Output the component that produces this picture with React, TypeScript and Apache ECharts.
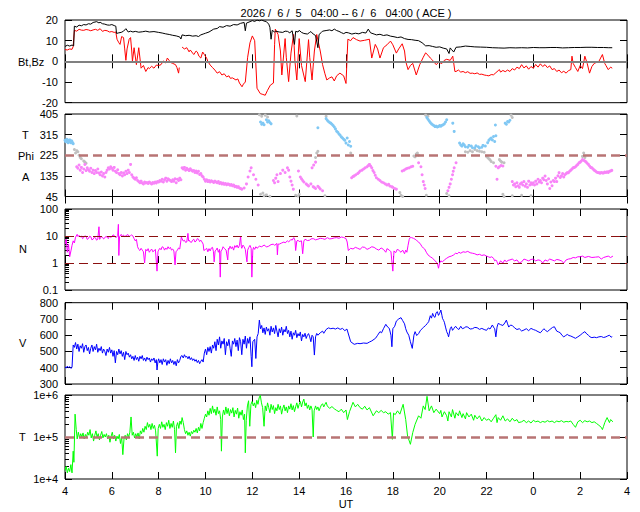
import React, { useEffect, useRef } from 'react';
import * as echarts from 'echarts';

// ---------- data (hours since 00 UT on 6/5; values > 24 are on 6/6) ----------
const TITLE = '2026 /  6 /  5   04:00 -- 6 /  6   04:00 ( ACE )';

const BT: [number, number][] = [
  [4.0,7.2],[4.1,7.8],[4.2,7.4],[4.3,7.9],[4.37,7.5],[4.4,17],[4.5,16.6],[4.6,17.5],[4.7,17.2],[4.8,17.8],[4.9,17.6],[5.0,18.2],
  [5.1,18],[5.2,18.8],[5.35,19.2],[5.45,18.6],[5.5,18.9],[5.6,18.2],[5.7,18],[5.8,17.6],[5.9,17.5],[6.0,17.8],[6.1,17.3],[6.17,17],
  [6.2,13.5],[6.3,13.8],[6.4,14],[6.5,14.6],[6.6,15.8],[6.7,14.2],[6.8,14.6],[6.9,14.2],[7.0,14.5],[7.15,14.1],[7.3,14.3],[7.45,14.6],
  [7.6,14.2],[7.8,14.4],[8.0,14],[8.15,13.7],[8.3,13.3],[8.45,13.0],[8.6,12.6],[8.75,12.3],[8.9,11.8],[8.95,10.8],[9.0,12.8],[9.15,12.4],
  [9.3,12.6],[9.45,12.2],[9.6,12.4],[9.7,12.0],[9.8,12.8],[9.9,13.2],[10.0,13.6],[10.15,14.2],[10.35,15.6],[10.5,15.9],[10.6,16.8],[10.75,16.5],
  [10.9,17.3],[11.05,17.0],[11.2,17.8],[11.35,17.6],[11.5,18.4],[11.65,18.8],[11.7,14.8],[11.75,18.5],[11.9,19.2],[12.0,19.7],[12.1,19.3],[12.2,20],
  [12.3,19.6],[12.4,20],[12.5,19.5],[12.6,19.2],[12.7,18.0],[12.75,16.5],[12.8,10.7],[12.85,15],[12.95,14.2],[13.0,14.6],[13.15,14.2],[13.3,14],
  [13.4,14.6],[13.5,14.5],[13.6,13.8],[13.7,14.8],[13.8,8.2],[13.85,14.5],[13.95,14.2],[14.0,15],[14.1,14.0],[14.2,13.5],[14.35,13.2],[14.45,14.0],
  [14.5,14.4],[14.6,13.2],[14.7,12.5],[14.8,6.6],[14.85,13],[14.95,14.0],[15.0,14.6],[15.15,14.9],[15.3,15.2],[15.4,14.8],[15.5,15.6],[15.6,14.9],
  [15.7,14.5],[15.8,13.9],[15.9,13.4],[16.0,14.0],[16.1,13.8],[16.25,13.2],[16.4,13.6],[16.55,13.3],[16.7,14],[16.85,13.7],[16.95,15.6],[17.05,13.8],
  [17.2,13.2],[17.3,12.8],[17.45,13.1],[17.6,12.5],[17.75,12.8],[17.9,12.2],[18.05,11.9],[18.2,11.5],[18.35,11.8],[18.5,11],[18.65,10.6],[18.8,10.5],
  [18.95,10.2],[19.1,10],[19.25,9.0],[19.4,7.5],[19.55,7.6],[19.7,7.2],[19.85,6.8],[20.0,7],[20.15,6.4],[20.3,6],[20.4,3.8],[20.45,6.5],
  [20.5,5.8],[20.6,4.5],[20.7,6.8],[20.9,7.0],[21.1,7.4],[21.3,7.2],[21.5,7],[21.75,6.9],[22.0,6.8],[22.25,6.6],[22.5,6.5],[22.75,6.4],
  [23.0,6.6],[23.25,6.5],[23.5,6.6],[23.75,6.5],[24.0,6.7],[24.25,6.6],[24.5,6.6],[24.75,6.7],[25.0,6.7],[25.25,6.5],[25.5,6.6],[25.75,6.7],
  [26.0,6.7],[26.25,6.8],[26.5,6.8],[26.75,6.7],[27.0,6.7],[27.2,6.6],[27.37,6.6]
];

const BZ: [number, number | null][] = [
  [4.0,5.7],[4.1,5.5],[4.2,6.0],[4.3,5.8],[4.35,7.2],[4.4,15],[4.5,14.6],[4.6,15.5],[4.7,15.1],[4.8,15],[4.9,15.4],[5.0,15.2],
  [5.1,14.8],[5.2,15.2],[5.3,15.5],[5.4,15.0],[5.5,15.8],[5.6,14.5],[5.7,15.0],[5.8,14.8],[5.9,14.2],[6.0,14.4],[6.1,14.0],[6.17,14.2],
  [6.22,10.7],[6.3,9.0],[6.35,8.2],[6.42,12.0],[6.5,11.5],[6.55,6.0],[6.6,0.5],[6.65,6],[6.74,10.7],[6.8,11.5],[6.85,5.0],[6.88,0],
  [6.95,6.6],[7.05,-1.6],[7.15,6.6],[7.25,-3.3],[7.35,-2.0],[7.45,-4.9],[7.55,-3.0],[7.6,-3.5],[7.7,-2.4],[7.8,-3.3],[7.9,-1.8],[8.0,-2],
  [8.1,-1.6],[8.2,0.2],[8.3,-0.8],[8.37,1.6],[8.45,0.4],[8.5,-0.5],[8.6,-1.0],[8.72,-1.6],[8.78,-3],[8.85,-5.7],[8.88,-3],[8.93,null],
  [9.0,6.9],[9.1,6.0],[9.2,6.6],[9.3,4.6],[9.35,5.5],[9.45,4.0],[9.5,3.3],[9.6,5.0],[9.65,4.5],[9.72,2.5],[9.8,1.6],[9.88,4.5],
  [9.95,3.3],[10.05,1.5],[10.1,0],[10.2,-1.8],[10.3,-3],[10.4,-4.2],[10.5,-5.7],[10.6,-5.0],[10.7,-6.6],[10.8,-6.0],[10.9,-7.5],[11.0,-7.0],
  [11.06,-8.2],[11.15,-8.0],[11.3,-9],[11.38,-8.5],[11.45,-10.5],[11.56,-12.3],[11.62,-11.0],[11.7,-10],[11.8,2],[11.9,9],[12.0,12.3],[12.1,10],
  [12.2,-13],[12.34,-15.6],[12.45,-16],[12.55,-16.4],[12.65,-14],[12.77,-11.5],[12.9,-10.5],[12.95,8],[12.98,15.6],[13.1,13],[13.2,5],[13.26,-6.6],
  [13.4,11],[13.45,2],[13.55,-9.8],[13.65,4],[13.76,13],[13.82,0],[13.9,-9],[14.0,11],[14.1,-2],[14.26,-9.8],[14.4,10.5],[14.45,2],
  [14.55,-9],[14.65,5],[14.75,13],[14.9,5],[15.0,-1.6],[15.1,-6.0],[15.18,-9],[15.3,-8.0],[15.4,-7.5],[15.5,-9.5],[15.6,-7.0],[15.74,-5.7],
  [15.9,-7],[16.0,-10.7],[16.08,10.7],[16.2,10.0],[16.3,11.5],[16.45,10.5],[16.6,9.8],[16.8,10.2],[17.0,10.7],[17.1,1.6],[17.25,8.2],[17.35,6.0],
  [17.45,1.6],[17.6,6.6],[17.75,8.0],[17.9,9.8],[18.0,8.0],[18.15,4],[18.25,6.0],[18.4,8.5],[18.5,5.0],[18.55,0],[18.65,-4],[18.75,-2.0],
  [18.85,-1],[19.0,-6.6],[19.15,-1.6],[19.3,2.0],[19.4,4.1],[19.5,3.0],[19.6,1.6],[19.7,0.5],[19.85,-1.6],[19.95,-0.5],[20.1,-1],[20.2,0.5],
  [20.3,1],[20.45,0.5],[20.56,2.5],[20.65,-4.9],[20.7,-4.9],[20.8,-4.2],[20.9,-5.2],[21.0,-4.9],[21.1,-5.5],[21.2,-5.0],[21.3,-5.8],[21.4,-5.7],
  [21.5,-6.0],[21.6,-5.6],[21.7,-6.3],[21.8,-6.2],[21.9,-6.6],[22.0,-6.8],[22.1,-7],[22.2,-6.4],[22.3,-6.5],[22.4,-5.5],[22.5,-4.5],[22.55,-4],
  [22.6,-5.2],[22.7,-4.4],[22.8,-5.0],[22.9,-4.2],[23.0,-4.9],[23.1,-3.5],[23.2,-4.2],[23.3,-2.8],[23.4,-3.5],[23.5,-1.6],[23.6,-3.2],[23.7,-2.2],
  [23.8,-3.8],[23.9,-2.5],[24.0,-3.3],[24.1,-1.5],[24.2,-2.8],[24.3,-1.2],[24.4,-2.5],[24.5,-1.6],[24.6,-3.0],[24.7,-2.2],[24.8,-4.0],[24.9,-3.5],
  [25.0,-4.9],[25.1,-4.2],[25.2,-5.5],[25.3,-4.8],[25.4,-5.7],[25.5,-4.5],[25.6,-4],[25.65,2.5],[25.7,-1],[25.8,-3],[25.9,-4.9],[26.0,-2.0],
  [26.1,-3.5],[26.2,2.5],[26.3,-1],[26.4,-5.7],[26.5,-2.5],[26.6,-1],[26.7,-0.5],[26.8,0],[26.95,3.3],[27.05,-1],[27.1,-2],[27.2,-4],
  [27.3,-2.8],[27.37,-3.3]
];

// Phi, away sector (pink). Dense stretches sampled every 0.05 h.
const PHI_AWAY_1 = [
  175,168,182,160,172,150,165,185,158,170, 162,155,168,150,160,145,158,150,165,148,
  140,152,135,145,130,150,160,170,165,175, 168,160,172,155,150,162,145,140,150,135,
  148,140,155,145,160,150,185,140,130,125, 120,127,115,110,105,112,104,100,108,104,
  106,102,108,104,100,106,103,108,104,110, 108,115,112,120,108,118,125,112,122,118,
  115,110,118,112,122,105,120,115,125,118, 170,165,172,160,168,163,158,166,160,155,
  158,150,156,148,155,141,145,135,130,120, 112,118,110,115,108,114,110,106,112,108,
  105,110,102,106,100,104,98,102,96,100, 98,94,97,92,95,88,90,85,88,82, 80,77
]; // from 4.5 h
const PHI_AWAY_2 = [
  110,95,100,88,105,92,85,100, 105,95,110,90,100,85,112,95,105,98,
  105,95,112,100,120,108,115,105,125,118, 134,115,100,122,80,108,92,115,110,125,
  110,135,149,128,135,145,130,140,145,149, 149,155,160,165,170,172,175,180,185,192,
  195,200,206,203,200,196,190,185,178,172, 170,165,160,156,152,150,149,147,150,148,
  148,152,150,153,150,155,156,159
]; // from 23.1 h
const PHI_AWAY_X: [number, number][] = [
  [11.65,82],[11.75,100],[11.82,130],[11.9,156],[11.95,170],[12.05,140],[12.15,120],[12.25,95],[12.9,115],[12.95,105],
  [13.0,125],[13.05,140],[13.1,110],[13.2,145],[13.3,160],[13.4,150],[13.5,170],[13.55,160],[13.6,130],[13.65,112],
  [13.7,95],[13.75,77],[13.97,156],[14.05,130],[14.1,122],[14.15,115],[14.2,108],[14.3,100],[14.35,95],[14.4,91],
  [14.5,100],[14.6,88],[14.65,84],[14.7,80],[14.8,90],[14.85,84],[14.9,78],[15.0,70],[14.55,170],[14.62,182],
  [14.7,195],[16.24,127],[16.3,132],[16.35,135],[16.42,140],[16.5,145],[16.55,150],[16.6,156],[16.68,160],[16.75,165],
  [16.82,170],[16.9,175],[16.95,180],[17.0,185],[17.05,178],[17.1,170],[17.15,158],[17.2,150],[17.25,138],[17.3,127],
  [17.38,120],[17.45,115],[17.52,108],[17.6,105],[17.68,100],[17.75,95],[17.82,98],[17.87,91],[17.95,88],[18.0,85],
  [18.08,80],[18.15,77],[18.4,156],[18.48,160],[18.55,165],[18.62,168],[18.7,170],[18.78,175],[18.85,177],[19.1,192],
  [19.2,175],[19.25,140],[19.3,110],[19.34,95],[19.38,80],[20.35,70],[20.4,85],[20.45,100],[20.5,120],[20.55,140],
  [20.58,155],[20.62,170],[20.7,192],[22.4,177],[22.45,120],[22.5,170],[22.55,175],[22.62,180],[22.7,178]
];

const PHI_TOWARD: [number, number][] = [
  [4.0,290],[4.03,284],[4.05,285],[4.08,295],[4.1,288],[4.13,280],[4.15,282],[4.18,290],[4.2,292],[4.23,285],
  [4.25,280],[4.28,288],[4.3,285],[4.33,278],[4.35,275],[12.35,370],[12.4,360],[12.45,365],[12.5,358],[12.6,380],
  [12.65,370],[12.7,375],[12.75,368],[12.8,362],[14.8,345],[15.15,385],[15.2,378],[15.25,372],[15.3,368],[15.35,365],
  [15.4,360],[15.45,355],[15.5,348],[15.55,340],[15.6,330],[15.65,325],[15.7,318],[15.75,312],[15.8,305],[15.85,300],
  [15.9,295],[15.95,290],[16.0,278],[16.05,300],[16.1,270],[16.15,285],[16.2,264],[19.45,390],[19.5,382],[19.55,375],
  [19.6,368],[19.65,362],[19.7,358],[19.75,355],[19.8,350],[19.85,352],[19.9,348],[19.95,350],[20.0,355],[20.05,352],
  [20.1,356],[20.15,358],[20.2,362],[20.25,370],[20.3,380],[20.56,365],[20.62,329],[20.85,278],[20.9,270],[20.95,265],
  [21.0,275],[21.05,270],[21.1,262],[21.2,260],[21.25,268],[21.35,265],[21.4,258],[21.5,258],[21.55,266],[21.65,262],
  [21.7,257],[21.8,260],[21.85,268],[21.95,265],[22.05,280],[22.1,290],[22.15,296],[22.2,300],[22.25,292],[22.3,307],
  [22.35,285],[22.4,310],[22.38,357],[22.8,365],[22.85,360],[22.9,372],[22.95,370],[23.0,378]
];

const PHI_MIXED: [number, number][] = [
  [4.4,250],[4.45,235],[4.5,245],[4.55,240],[4.6,225],[4.65,215],[4.7,210],[4.8,200],[4.85,195],[4.9,190],
  [12.3,402],[12.4,395],[12.55,400],[12.65,392],[12.35,55],[12.45,60],[12.5,48],[12.6,52],[12.75,46],[13.85,50],
  [13.95,47],[14.0,55],[13.9,396],[14.7,215],[14.75,235],[14.8,242],[15.1,48],[15.15,395],[16.2,235],[16.25,225],
  [18.3,62],[18.35,50],[18.42,45],[18.9,222],[18.95,218],[19.0,230],[19.05,235],[19.1,225],[19.43,50],[19.4,400],
  [19.5,395],[20.3,58],[20.4,48],[21.1,240],[21.2,238],[21.3,245],[21.4,240],[21.5,250],[21.6,245],[21.7,242],
  [21.8,240],[21.9,238],[22.0,220],[22.05,215],[22.1,210],[22.15,205],[22.2,198],[22.3,192],[22.55,206],[22.6,200],
  [22.65,195],[22.75,192],[22.7,55],[22.75,45],[23.05,400],[23.1,390],[23.1,48],[23.5,50],[23.9,48],[26.1,220],
  [26.15,235],[26.2,215]
];

const DENSITY: [number, number][] = [
  [4.0,5],[4.05,7.6],[4.1,2.5],[4.15,5],[4.2,1.7],[4.26,3],[4.3,4.5],[4.35,6.6],[4.4,5.5],[4.45,9],[4.52,11.5],[4.56,9.5],
  [4.6,10.5],[4.65,9.2],[4.7,10],[4.75,8.0],[4.8,8.7],[4.85,10.2],[4.9,9.5],[4.95,7.5],[5.0,8],[5.05,9.8],[5.1,9.5],[5.15,7.2],
  [5.2,7.6],[5.25,9.0],[5.3,8.5],[5.35,7.0],[5.4,7.6],[5.45,22],[5.48,7.5],[5.5,8],[5.55,9.5],[5.6,9],[5.65,7.8],[5.7,8.5],
  [5.75,9.8],[5.8,9],[5.85,8.0],[5.9,10],[5.95,8.8],[6.0,9.5],[6.05,11.0],[6.1,10.5],[6.15,9.0],[6.2,9],[6.25,10.5],[6.28,27],
  [6.3,1.9],[6.33,9.5],[6.35,10],[6.4,11.5],[6.45,9.8],[6.5,10.8],[6.55,9.5],[6.6,10],[6.65,11.2],[6.7,11],[6.75,9.6],[6.8,10.3],
  [6.85,11.0],[6.9,10],[6.95,8.0],[7.0,6.6],[7.05,7.5],[7.1,4],[7.15,3.2],[7.2,2.9],[7.25,3.5],[7.3,3],[7.35,2.6],[7.4,1],
  [7.45,3.2],[7.5,2.8],[7.55,3.4],[7.6,2.5],[7.65,2.9],[7.7,3.3],[7.75,2.6],[7.8,2.8],[7.86,3.2],[7.93,0.5],[7.97,2.6],[8.0,3],
  [8.05,3.5],[8.1,3.1],[8.15,4.0],[8.2,3.8],[8.25,3.0],[8.3,3.6],[8.35,3.2],[8.4,4.0],[8.45,3.4],[8.5,3.8],[8.55,3.0],[8.6,3.3],
  [8.65,2.8],[8.7,0.85],[8.74,2.6],[8.8,3],[8.85,3.6],[8.9,3.3],[8.97,9.2],[9.0,8.0],[9.05,6.5],[9.1,7],[9.15,5.8],[9.2,6],
  [9.25,12.5],[9.28,6.5],[9.3,7],[9.35,6.0],[9.4,5.8],[9.45,7.0],[9.5,7.6],[9.55,6.0],[9.6,6.5],[9.65,8.0],[9.7,7.6],[9.75,6.2],
  [9.8,7.0],[9.85,6],[9.9,5.0],[9.93,2.9],[10.0,3.2],[10.05,3.5],[10.1,2.6],[10.15,3.4],[10.2,2.8],[10.25,3.6],[10.3,3.8],[10.34,2.6],
  [10.37,1.1],[10.41,2.8],[10.45,3],[10.5,3.6],[10.55,2.5],[10.6,3.2],[10.63,0.3],[10.66,2.8],[10.7,3],[10.75,4.0],[10.8,3.5],[10.88,3.0],
  [10.95,1.3],[10.98,3.5],[11.0,3.2],[11.05,4.2],[11.1,3.4],[11.15,4],[11.2,3.0],[11.25,4.4],[11.3,3.8],[11.35,4.6],[11.4,3.6],[11.45,4.5],
  [11.5,10],[11.53,4.0],[11.55,3.5],[11.6,4.6],[11.65,4],[11.7,3.2],[11.77,1.1],[11.8,3.0],[11.85,3.8],[11.9,4.5],[11.95,3.5],[11.98,0.3],
  [12.02,3.0],[12.05,3.8],[12.1,3.2],[12.15,4.0],[12.2,3.5],[12.3,4.2],[12.4,4],[12.5,4.6],[12.55,4.4],[12.6,3.9],[12.7,4.2],[12.8,4.8],
  [12.9,5],[12.95,4.5],[13.05,5.3],[13.07,2],[13.1,5.0],[13.15,5],[13.25,5.5],[13.35,6],[13.4,5.6],[13.5,6.6],[13.55,6.0],[13.65,7.5],
  [13.7,7.0],[13.77,8.7],[13.82,7.0],[13.85,2.9],[13.9,6.5],[13.95,7],[14.0,6.2],[14.1,6.6],[14.15,2.2],[14.2,6.5],[14.25,7.6],[14.35,6.8],
  [14.45,7],[14.5,7.8],[14.6,8],[14.7,7.2],[14.8,7.6],[14.9,8.2],[15.0,8],[15.1,7.5],[15.2,8.7],[15.3,7.8],[15.4,8],[15.5,8.5],
  [15.6,8.7],[15.7,8.2],[15.8,9.2],[15.9,8.8],[16.0,8],[16.05,6.0],[16.1,2.9],[16.2,3.5],[16.3,3.3],[16.4,3.8],[16.5,3.5],[16.6,3.2],
  [16.7,3.9],[16.8,3.8],[16.9,3.2],[17.0,3.5],[17.1,4.0],[17.2,3.8],[17.3,3.3],[17.4,3],[17.5,3.6],[17.6,3.2],[17.7,2.5],[17.75,3.4],
  [17.85,3],[17.92,2.6],[18.0,0.5],[18.05,2.8],[18.12,2.4],[18.2,3.3],[18.28,2.8],[18.35,2.5],[18.42,3.0],[18.5,2.2],[18.55,3.0],[18.6,2.5],
  [18.65,4.5],[18.7,7.5],[18.75,9.0],[18.8,8.7],[18.88,8.2],[18.95,7.6],[19.02,6.8],[19.1,6],[19.18,5.0],[19.25,4],[19.3,3.6],[19.36,3.3],
  [19.43,2.5],[19.5,2],[19.6,1.7],[19.7,1.5],[19.8,1.2],[19.9,1],[19.95,0.64],[20.0,1.0],[20.05,1.2],[20.12,1.1],[20.2,1.3],[20.3,1.5],
  [20.4,1.7],[20.5,1.8],[20.6,2],[20.68,2.3],[20.75,2.2],[20.82,2.5],[20.9,2.3],[21.0,2.6],[21.1,2.5],[21.2,2.7],[21.3,2.4],[21.4,2.3],
  [21.5,2.2],[21.6,2.0],[21.7,2.1],[21.8,1.9],[21.9,2.0],[22.0,1.8],[22.08,1.7],[22.15,1.6],[22.22,1.7],[22.3,1.5],[22.35,1.2],[22.4,1.3],
  [22.45,1.1],[22.5,0.85],[22.55,1.0],[22.6,1.2],[22.7,1.0],[22.78,1.3],[22.85,1.1],[22.92,1.25],[23.0,1.3],[23.1,1.4],[23.2,1.2],[23.3,1.3],
  [23.4,1.0],[23.5,1.1],[23.6,1.4],[23.7,1.3],[23.8,1.2],[23.9,1.35],[24.0,1.4],[24.1,1.2],[24.2,1.3],[24.3,1.25],[24.4,1.0],[24.5,1.3],
  [24.6,1.18],[24.7,1.4],[24.8,1.3],[24.9,1.2],[25.0,1.35],[25.1,1.3],[25.2,1.2],[25.3,1.0],[25.4,1.3],[25.5,1.4],[25.6,1.45],[25.7,1.6],
  [25.8,1.55],[25.9,1.7],[26.0,1.7],[26.1,1.8],[26.2,1.6],[26.35,1.75],[26.5,1.6],[26.65,1.65],[26.8,1.7],[26.9,1.4],[27.0,1.6],[27.1,1.7],
  [27.2,1.8],[27.3,1.6],[27.4,1.8]
];

const SPEED: [number, number][] = [
  [4.0,405],[4.05,398],[4.1,410],[4.15,400],[4.2,407],[4.25,396],[4.3,402],[4.35,540],[4.4,525],[4.45,555],[4.5,515],[4.55,545],
  [4.6,500],[4.65,535],[4.7,520],[4.75,548],[4.8,495],[4.85,530],[4.9,540],[4.95,505],[5.0,525],[5.05,485],[5.1,520],[5.15,540],
  [5.2,500],[5.25,530],[5.3,510],[5.35,545],[5.4,495],[5.45,520],[5.5,505],[5.55,530],[5.6,490],[5.65,515],[5.7,500],[5.75,475],
  [5.8,515],[5.85,495],[5.9,525],[5.95,490],[6.0,510],[6.05,470],[6.1,505],[6.15,430],[6.2,500],[6.25,480],[6.3,515],[6.35,485],
  [6.4,505],[6.45,470],[6.5,495],[6.55,450],[6.6,500],[6.65,480],[6.7,490],[6.75,465],[6.8,480],[6.85,455],[6.9,470],[6.95,445],
  [7.0,475],[7.05,450],[7.1,465],[7.15,440],[7.2,470],[7.25,455],[7.3,475],[7.35,445],[7.4,460],[7.45,440],[7.5,465],[7.55,450],
  [7.6,460],[7.65,435],[7.7,455],[7.75,445],[7.8,460],[7.85,430],[7.9,450],[7.93,386],[7.97,440],[8.0,455],[8.05,430],[8.1,450],
  [8.15,420],[8.2,455],[8.25,435],[8.3,450],[8.35,415],[8.4,445],[8.45,425],[8.5,455],[8.55,430],[8.6,445],[8.65,420],[8.7,440],
  [8.75,412],[8.8,450],[8.85,430],[8.9,445],[8.95,470],[9.0,475],[9.05,460],[9.1,480],[9.15,465],[9.2,470],[9.25,455],[9.3,470],
  [9.35,450],[9.4,462],[9.45,445],[9.5,455],[9.55,440],[9.6,450],[9.65,432],[9.7,445],[9.75,425],[9.8,440],[9.85,450],[9.9,435],
  [9.95,490],[10.0,515],[10.05,480],[10.1,525],[10.15,500],[10.2,530],[10.25,490],[10.3,540],[10.35,520],[10.4,560],[10.45,505],[10.5,575],
  [10.55,540],[10.6,590],[10.65,520],[10.7,565],[10.75,545],[10.8,580],[10.85,480],[10.9,560],[10.95,535],[11.0,575],[11.05,520],[11.1,470],
  [11.15,565],[11.2,545],[11.25,580],[11.3,530],[11.35,570],[11.4,505],[11.45,585],[11.5,560],[11.55,480],[11.6,575],[11.65,545],[11.7,595],
  [11.75,520],[11.8,580],[11.85,550],[11.9,590],[11.95,470],[11.98,406],[12.02,560],[12.1,575],[12.15,457],[12.2,590],[12.25,610],[12.3,693],
  [12.35,640],[12.4,660],[12.45,615],[12.5,645],[12.55,605],[12.6,650],[12.65,625],[12.7,640],[12.75,600],[12.8,655],[12.85,620],[12.9,645],
  [12.95,610],[13.0,660],[13.05,625],[13.1,590],[13.15,640],[13.2,615],[13.25,650],[13.3,600],[13.35,635],[13.4,620],[13.45,655],[13.5,610],
  [13.55,630],[13.6,590],[13.65,625],[13.7,575],[13.75,615],[13.8,600],[13.85,630],[13.9,585],[13.95,610],[14.0,595],[14.05,620],[14.1,565],
  [14.15,605],[14.2,590],[14.25,612],[14.3,580],[14.35,600],[14.4,610],[14.45,590],[14.5,560],[14.55,600],[14.6,590],[14.65,478],[14.7,590],
  [14.75,611],[14.8,600],[14.9,615],[15.0,625],[15.05,612],[15.15,635],[15.25,645],[15.35,640],[15.45,643],[15.55,638],[15.65,645],[15.75,636],
  [15.85,642],[15.95,628],[16.04,638],[16.2,560],[16.35,544],[16.5,550],[16.6,548],[16.75,552],[16.9,550],[17.0,558],[17.1,565],[17.2,575],
  [17.26,581],[17.35,600],[17.45,622],[17.52,615],[17.6,640],[17.7,667],[17.78,650],[17.85,642],[17.92,600],[17.96,529],[18.0,640],[18.08,655],
  [18.15,687],[18.25,700],[18.35,708],[18.42,690],[18.5,670],[18.55,640],[18.6,620],[18.68,600],[18.75,560],[18.83,519],[18.9,600],[18.95,622],
  [19.02,598],[19.1,610],[19.18,630],[19.25,640],[19.32,650],[19.4,660],[19.47,672],[19.53,683],[19.6,720],[19.65,705],[19.7,734],[19.75,715],
  [19.8,710],[19.85,738],[19.9,745],[19.95,722],[20.0,735],[20.05,755],[20.1,720],[20.12,704],[20.17,690],[20.2,680],[20.25,650],[20.3,622],
  [20.35,605],[20.38,590],[20.45,640],[20.5,652],[20.55,630],[20.6,640],[20.68,655],[20.75,642],[20.82,635],[20.9,655],[20.97,640],[21.05,645],
  [21.12,652],[21.2,650],[21.3,638],[21.4,640],[21.5,648],[21.6,646],[21.7,636],[21.8,642],[21.9,635],[22.0,630],[22.08,645],[22.15,638],
  [22.25,663],[22.32,645],[22.35,640],[22.4,590],[22.45,650],[22.5,673],[22.6,665],[22.7,660],[22.78,675],[22.85,693],[22.9,670],[22.95,650],
  [23.02,662],[23.1,660],[23.2,645],[23.3,635],[23.4,640],[23.5,626],[23.6,632],[23.7,640],[23.8,628],[23.9,642],[24.0,635],[24.1,630],
  [24.2,622],[24.3,615],[24.38,628],[24.45,640],[24.52,630],[24.6,622],[24.68,632],[24.75,640],[24.82,648],[24.9,652],[24.95,638],[25.0,625],
  [25.08,620],[25.15,615],[25.22,600],[25.3,590],[25.38,598],[25.45,605],[25.52,598],[25.6,595],[25.7,588],[25.8,581],[25.9,590],[26.0,600],
  [26.1,612],[26.2,622],[26.28,608],[26.35,600],[26.42,590],[26.5,585],[26.6,588],[26.7,585],[26.8,590],[26.9,592],[27.0,586],[27.1,590],
  [27.18,596],[27.25,600],[27.32,588],[27.37,591]
];

const TEMP: [number, number][] = [
  [4.0,1.6e4],[4.05,2e4],[4.1,1.4e4],[4.15,1.8e4],[4.2,1.5e4],[4.25,2.2e4],[4.3,1.4e4],[4.35,4.6e4],[4.38,2.5e4],[4.43,3.5e5],
  [4.48,1.5e5],[4.52,0.9e5],[4.57,1.3e5],[4.62,0.95e5],[4.67,1.2e5],[4.72,1.0e5],[4.77,1.25e5],[4.82,0.9e5],[4.87,1.15e5],[4.92,1.0e5],
  [4.97,1.3e5],[5.02,1.1e5],[5.07,1.5e5],[5.12,0.95e5],[5.17,1.2e5],[5.22,0.8e5],[5.27,1.1e5],[5.32,1.4e5],[5.37,1.0e5],[5.42,1.2e5],
  [5.47,0.85e5],[5.52,1.1e5],[5.57,1.35e5],[5.62,0.95e5],[5.67,1.15e5],[5.72,1.0e5],[5.77,1.2e5],[5.82,0.9e5],[5.87,1.1e5],[5.92,0.75e5],
  [5.97,1.05e5],[6.02,1.3e5],[6.07,0.9e5],[6.12,1.1e5],[6.17,0.8e5],[6.22,1.05e5],[6.27,0.9e5],[6.32,1.15e5],[6.37,0.7e5],[6.42,1.0e5],
  [6.47,3.8e4],[6.52,0.9e5],[6.57,1.1e5],[6.62,0.85e5],[6.67,1.2e5],[6.72,1.0e5],[6.77,1.3e5],[6.82,3e5],[6.87,1.1e5],[6.92,1.3e5],
  [6.97,0.95e5],[7.02,1.2e5],[7.07,1.0e5],[7.12,1.25e5],[7.17,0.9e5],[7.22,1.4e5],[7.27,1.2e5],[7.32,1.6e5],[7.37,1.3e5],[7.42,1.8e5],
  [7.47,1.5e5],[7.52,2.2e5],[7.57,1.7e5],[7.62,2.0e5],[7.67,1.5e5],[7.72,2.1e5],[7.77,1.6e5],[7.82,1.9e5],[7.87,1.4e5],[7.94,3.5e4],
  [7.98,1.6e5],[8.03,2.0e5],[8.08,1.6e5],[8.13,2.3e5],[8.18,1.7e5],[8.23,2.0e5],[8.28,1.5e5],[8.33,2.2e5],[8.38,1.8e5],[8.43,2.5e5],
  [8.48,1.6e5],[8.53,2.1e5],[8.58,1.7e5],[8.63,2.4e5],[8.68,1.5e5],[8.72,4.2e4],[8.76,1.8e5],[8.81,2.2e5],[8.86,1.6e5],[8.91,2.4e5],
  [8.96,2.0e5],[9.0,2.9e5],[9.05,2.2e5],[9.1,1.5e5],[9.15,1.2e5],[9.2,1.4e5],[9.25,1.1e5],[9.3,1.3e5],[9.35,1.05e5],[9.4,1.35e5],
  [9.45,1.2e5],[9.5,1.45e5],[9.55,1.3e5],[9.6,1.6e5],[9.65,1.25e5],[9.7,1.7e5],[9.75,1.4e5],[9.8,2.1e5],[9.85,1.6e5],[9.9,2.2e5],
  [9.95,2.8e5],[10.0,3.5e5],[10.05,3.0e5],[10.1,4.2e5],[10.15,3.3e5],[10.2,4.8e5],[10.25,3.6e5],[10.3,5.5e5],[10.35,3.8e5],[10.4,4.6e5],
  [10.45,3.3e5],[10.5,5.2e5],[10.55,3.6e5],[10.6,4.2e5],[10.65,2.6e5],[10.68,4.6e4],[10.72,3.0e5],[10.77,4.4e5],[10.82,3.4e5],[10.87,5.2e5],
  [10.92,3.6e5],[10.97,4.8e5],[11.02,3.2e5],[11.07,4.5e5],[11.12,3.7e5],[11.17,5.0e5],[11.22,3.0e5],[11.27,4.3e5],[11.32,3.5e5],[11.37,4.9e5],
  [11.42,2.8e5],[11.47,4.0e5],[11.52,3.3e5],[11.57,4.4e5],[11.62,2.6e5],[11.67,3.5e5],[11.7,4.2e4],[11.74,2.5e5],[11.79,5.5e5],[11.84,7.3e5],
  [11.89,1.8e5],[11.94,6.0e5],[11.99,7.0e5],[12.04,5.5e5],[12.09,6.5e5],[12.14,5.0e5],[12.19,7.5e5],[12.24,6.0e5],[12.29,8.5e5],[12.34,9.8e5],
  [12.39,6.5e5],[12.44,5.0e5],[12.5,1.8e5],[12.55,5.5e5],[12.6,4.2e5],[12.65,6.5e5],[12.7,5.0e5],[12.75,3.8e5],[12.8,6.0e5],[12.85,4.5e5],
  [12.9,5.6e5],[12.95,3.6e5],[13.0,5.0e5],[13.05,4.2e5],[13.1,6.0e5],[13.15,4.5e5],[13.2,5.5e5],[13.25,3.5e5],[13.3,4.8e5],[13.35,5.8e5],
  [13.4,4.2e5],[13.45,5.2e5],[13.5,3.8e5],[13.55,5.5e5],[13.6,4.6e5],[13.65,6.2e5],[13.7,4.4e5],[13.75,5.6e5],[13.8,4.0e5],[13.85,5.2e5],
  [13.9,6.5e5],[13.95,4.8e5],[14.0,6.0e5],[14.05,7.0e5],[14.1,5.2e5],[14.15,6.8e5],[14.2,8.0e5],[14.25,5.5e5],[14.3,6.5e5],[14.35,4.8e5],
  [14.4,5.8e5],[14.45,4.4e5],[14.5,5.5e5],[14.55,4.6e5],[14.6,1e5],[14.64,4.2e5],[14.7,5.5e5],[14.75,4.5e5],[14.8,5.2e5],[14.85,4.2e5],
  [14.9,5.0e5],[14.95,5.8e5],[15.0,6.2e5],[15.05,5.2e5],[15.1,6.0e5],[15.15,6.7e5],[15.2,5.5e5],[15.3,4.8e5],[15.4,5.3e5],[15.5,4.7e5],
  [15.6,4.3e5],[15.7,4.0e5],[15.8,4.6e5],[15.9,3.8e5],[16.0,4.4e5],[16.06,2.6e5],[16.15,4.0e5],[16.3,6.7e5],[16.4,5.2e5],[16.5,6.0e5],
  [16.6,5.0e5],[16.7,4.6e5],[16.8,5.4e5],[16.9,4.4e5],[17.0,5.0e5],[17.16,3.2e5],[17.3,4.2e5],[17.4,3.8e5],[17.5,4.3e5],[17.6,3.8e5],
  [17.7,4.0e5],[17.8,3.5e5],[17.9,3.8e5],[17.98,8.8e4],[18.03,3.7e5],[18.1,3.4e5],[18.2,4.2e5],[18.3,3.5e5],[18.44,6e5],[18.55,2.6e5],
  [18.63,1.05e5],[18.75,6.7e4],[18.85,1.27e5],[18.95,2e5],[19.1,3.2e5],[19.2,2.8e5],[19.3,5.5e5],[19.38,4.5e5],[19.46,9.3e5],[19.55,4.2e5],
  [19.65,5.5e5],[19.75,3.8e5],[19.85,4.6e5],[20.0,3.6e5],[20.05,4.3e5],[20.1,3.0e5],[20.2,4.0e5],[20.3,3.2e5],[20.35,2.4e5],[20.4,4.0e5],
  [20.5,3.0e5],[20.55,4.5e5],[20.65,2.8e5],[20.7,3.8e5],[20.8,3.2e5],[20.85,4.2e5],[20.95,2.9e5],[21.0,3.6e5],[21.1,2.7e5],[21.15,3.8e5],
  [21.25,3.0e5],[21.35,3.5e5],[21.45,2.5e5],[21.5,3.3e5],[21.6,2.7e5],[21.7,3.2e5],[21.8,2.4e5],[21.9,2.9e5],[22.0,2.5e5],[22.1,2.7e5],
  [22.2,2.3e5],[22.3,2.8e5],[22.4,3.4e5],[22.45,2.2e5],[22.5,2.9e5],[22.6,2.5e5],[22.7,3.2e5],[22.8,2.4e5],[22.9,2.7e5],[23.0,2.3e5],
  [23.1,2.8e5],[23.2,2.4e5],[23.3,2.6e5],[23.37,2.2e5],[23.5,2.3e5],[23.6,2.5e5],[23.7,2.2e5],[23.8,2.4e5],[23.9,2.15e5],[24.0,2.5e5],
  [24.1,2.3e5],[24.2,2.4e5],[24.3,2.2e5],[24.4,2.35e5],[24.5,2.25e5],[24.6,2.45e5],[24.7,2.3e5],[24.8,2.4e5],[24.9,2.2e5],[25.0,2.4e5],
  [25.1,2.3e5],[25.2,2.45e5],[25.3,2.25e5],[25.4,2.35e5],[25.5,2.3e5],[25.6,2.4e5],[25.7,2.0e5],[25.8,1.7e5],[25.9,2.3e5],[26.0,2.5e5],
  [26.1,2.2e5],[26.2,2.45e5],[26.3,2.3e5],[26.4,2.4e5],[26.5,2.2e5],[26.6,2.3e5],[26.7,2.1e5],[26.8,1.9e5],[26.9,1.7e5],[26.95,1.5e5],
  [27.0,1.8e5],[27.05,2.2e5],[27.15,2.9e5],[27.25,2.2e5],[27.3,2.6e5],[27.4,2.3e5]
];

const PHI_BASE = 45; // lowest Phi tick
const PHI_REF = 225;
const N_REFS = [1, 10];
const T_REF = 1e5;
const HOUR_MIN = 4;
const HOUR_MAX = 28;
const N_MINOR = [0.2,0.3,0.4,0.5,0.6,0.7,0.8,0.9,2,3,4,5,6,7,8,9,20,30,40,50,60,70,80,90];
const T_MINOR = [2e4,3e4,4e4,5e4,6e4,7e4,8e4,9e4,2e5,3e5,4e5,5e5,6e5,7e5,8e5,9e5];

// ---------- layout ----------
const FONT = '"Liberation Sans", Arial, sans-serif';
const PLOT_LEFT = 65;
const PLOT_WIDTH = 562;
const PANELS = [
  { top: 20, height: 82.7 },
  { top: 114, height: 82.5 },
  { top: 209, height: 81 },
  { top: 302.7, height: 81.3 },
  { top: 395, height: 84 },
];

const seq = (start: number, step: number, values: number[]): [number, number][] =>
  values.map((v, i) => [Math.round((start + i * step) * 1000) / 1000, v]);

function buildOption() {
  const grid = PANELS.map((p) => ({
    left: PLOT_LEFT, top: p.top, width: PLOT_WIDTH, height: p.height,
    show: true, borderColor: '#000', borderWidth: 1, backgroundColor: 'transparent',
    containLabel: false, outerBoundsMode: 'none',
  }));

  const tick = { show: true, inside: true, length: 7, lineStyle: { color: '#000', width: 1 } };
  const label = { color: '#000', fontSize: 11, fontFamily: FONT };

  const xAxis: any[] = [];
  PANELS.forEach((_, i) => {
    const base = {
      gridIndex: i, type: 'value', min: HOUR_MIN, max: HOUR_MAX, interval: 2,
      axisLine: { show: false }, axisTick: tick, splitLine: { show: false },
    };
    xAxis.push({
      ...base, position: 'bottom',
      axisLabel: { ...label, show: i === PANELS.length - 1, margin: 6,
        formatter: (v: number) => String(((v % 24) + 24) % 24) },
    });
    xAxis.push({ ...base, position: 'top', axisLabel: { show: false } });
  });

  const yCfg: any[] = [
    { type: 'value', min: -20, max: 20, interval: 10 },
    { type: 'value', min: 0, max: 360, interval: 90, formatter: (v: number) => String(v + PHI_BASE) },
    { type: 'log', min: 0.1, max: 100, logBase: 10, minor: N_MINOR, formatter: (v: number) => String(v) },
    { type: 'value', min: 300, max: 800, interval: 100 },
    { type: 'log', min: 1e4, max: 1e6, logBase: 10, minor: T_MINOR,
      formatter: (v: number) => '1e+' + Math.round(Math.log10(v)) },
  ];
  const yAxis: any[] = [];
  yCfg.forEach((c, i) => {
    const base: any = { gridIndex: i, type: c.type, min: c.min, max: c.max,
      axisLine: { show: false }, axisTick: tick, splitLine: { show: false } };
    if (c.interval) base.interval = c.interval;
    if (c.logBase) base.logBase = c.logBase;
    yAxis.push({ ...base, position: 'left', axisLabel: { ...label, margin: 7, formatter: c.formatter } });
    yAxis.push({ ...base, position: 'right', axisLabel: { show: false } });
  });
  // minor decade ticks of the log panels, on a hidden linear axis measured in log10 units
  yCfg.forEach((c, i) => {
    if (!c.minor) return;
    yAxis.push({
      gridIndex: i, type: 'value', min: Math.log10(c.min), max: Math.log10(c.max), position: 'left',
      axisLine: { show: false }, splitLine: { show: false }, axisLabel: { show: false },
      axisTick: { show: true, inside: true, length: 4,
        customValues: c.minor.map((v: number) => Math.log10(v)), lineStyle: { color: '#000', width: 1 } },
    });
  });

  const ax = (i: number) => ({ xAxisIndex: 2 * i, yAxisIndex: 2 * i });
  const line = (i: number, data: any[], color: string) => ({
    type: 'line', ...ax(i), data, showSymbol: false, symbol: 'none', connectNulls: false,
    lineStyle: { color, width: 1 }, itemStyle: { color },
  });
  const scatter = (data: [number, number][], color: string) => ({
    type: 'scatter', ...ax(1), symbol: 'circle', symbolSize: 3,
    itemStyle: { color, opacity: 1 },
    data: data.map(([h, v]) => [h, v - PHI_BASE]),
  });
  const refLine = (values: number[], color: string, width: number, dash: number[]) => ({
    silent: true, symbol: 'none', label: { show: false },
    lineStyle: { color, width, type: dash },
    data: values.map((v) => ({ yAxis: v })),
  });

  const away = [
    ...seq(4.5, 0.05, PHI_AWAY_1),
    ...PHI_AWAY_X,
    ...seq(23.1, 0.05, PHI_AWAY_2),
  ];

  const series: any[] = [
    { ...line(0, BZ, '#ff0000') },
    { ...line(0, BT, '#000000'),
      markLine: { silent: true, symbol: 'none', label: { show: false },
        lineStyle: { color: '#808080', width: 2, type: 'solid' }, data: [{ yAxis: 0 }] } },
    { ...scatter(PHI_MIXED, '#c0c0c0') },
    { ...scatter(PHI_TOWARD, '#80c8f4') },
    { ...scatter(away, '#f884f8'),
      markLine: refLine([PHI_REF - PHI_BASE], '#b87474', 2.5, [9, 5]) },
    { ...line(2, DENSITY, '#ff00ff'), markLine: refLine(N_REFS, '#8b1010', 1.2, [9, 5]) },
    { ...line(3, SPEED, '#0000ff') },
    { ...line(4, TEMP, '#00ff00'), markLine: refLine([T_REF], '#b87474', 2.5, [9, 5]) },
  ];

  const txt = (text: string, x: number, y: number, align = 'left') => ({
    type: 'text', x, y, silent: true,
    style: { text, fill: '#000', font: `11px ${FONT}`, textAlign: align, textVerticalAlign: 'middle' },
  });

  const graphic = [
    txt(TITLE, 346, 12.5, 'center'),
    txt('Bt,Bz', 18, 62),
    txt('T', 22, 135),
    txt('Phi', 18, 156),
    txt('A', 22, 177),
    txt('N', 19, 249),
    txt('V', 19, 343),
    txt('T', 19, 437),
    txt('UT', 346, 504, 'center'),
  ];

  return { animation: false, backgroundColor: '#fff', grid, xAxis, yAxis, series, graphic };
}

export default function App() {
  const ref = useRef<HTMLDivElement>(null);
  useEffect(() => {
    if (!ref.current) return;
    const chart = echarts.init(ref.current, undefined, { renderer: 'svg' });
    chart.setOption(buildOption() as any);
    return () => chart.dispose();
  }, []);
  return (
    <div
      ref={ref}
      style={{ position: 'absolute', left: 0, top: 0, width: 640, height: 512, background: '#fff' }}
    />
  );
}
